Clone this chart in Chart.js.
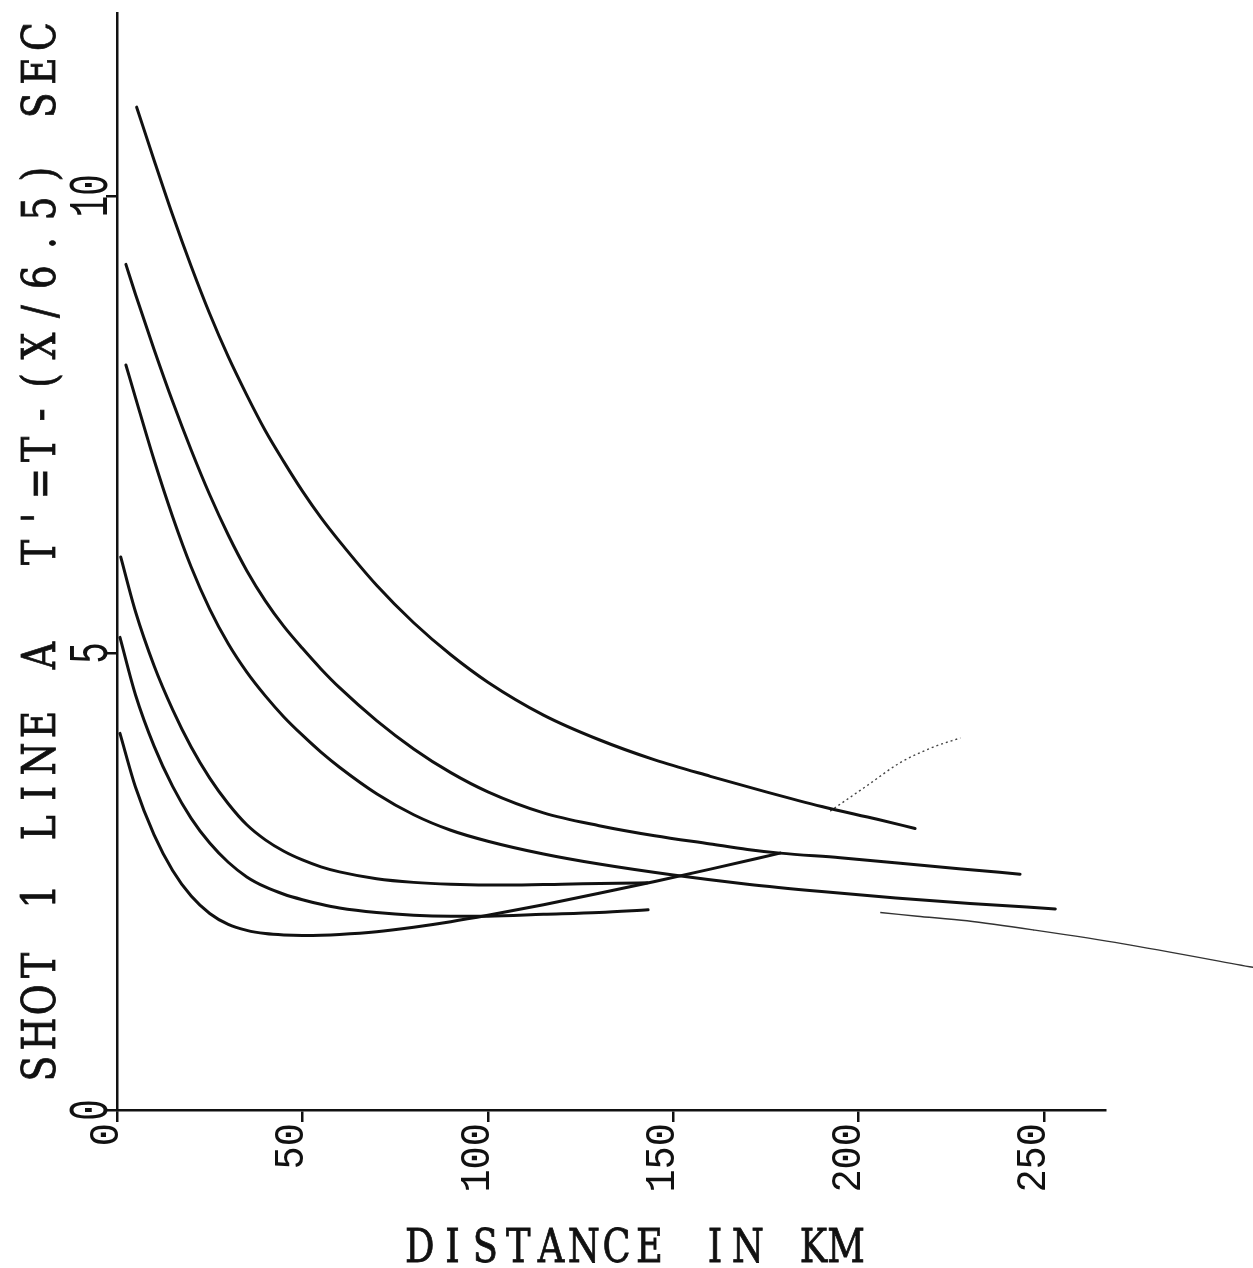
<!DOCTYPE html>
<html>
<head>
<meta charset="utf-8">
<title>Shot 1 Line A</title>
<script src="https://cdn.jsdelivr.net/npm/chart.js@4.4.1/dist/chart.umd.min.js"></script>
<style>
    html, body { margin: 0; padding: 0; background: #fff; }
    #wrap { width: 1253px; height: 1268px; position: relative; }
</style>
</head>
<body>
<div id="wrap"><canvas id="chart"></canvas></div>
<script>
// distance (km) and reduced time (s), one pair per branch
const curve1X = [5.3, 10, 15, 20, 25, 30, 35, 40, 45, 50, 55, 60, 70, 80, 90, 100, 115, 130, 145, 160, 175, 190, 205, 215.2];
const curve1Y = [10.97, 10.39, 9.79, 9.23, 8.71, 8.24, 7.82, 7.43, 7.09, 6.77, 6.48, 6.22, 5.74, 5.33, 4.98, 4.68, 4.32, 4.05, 3.83, 3.65, 3.48, 3.32, 3.18, 3.08];

const curve2X = [2.4, 5, 10, 15, 20, 25, 30, 35, 40, 45, 50, 55, 60, 70, 80, 90, 100, 115, 130, 145, 160, 170, 178.8, 195, 211.2, 227, 243.5];
const curve2Y = [9.25, 8.92, 8.32, 7.75, 7.22, 6.73, 6.29, 5.90, 5.57, 5.29, 5.05, 4.825, 4.62, 4.26, 3.95, 3.69, 3.48, 3.25, 3.11, 3.00, 2.91, 2.85, 2.81, 2.76, 2.70, 2.64, 2.58];

const curve3X = [2.4, 5, 10, 15, 20, 25, 30, 35, 40, 45, 50, 55, 60, 70, 80, 90, 100, 115, 130, 150, 170, 190, 210, 230, 253];
const curve3Y = [8.15, 7.79, 7.11, 6.49, 5.94, 5.48, 5.10, 4.79, 4.53, 4.30, 4.10, 3.915, 3.75, 3.46, 3.23, 3.06, 2.94, 2.80, 2.69, 2.57, 2.47, 2.39, 2.32, 2.26, 2.20];

const curve4X = [1.0, 5, 10, 15, 20, 25, 30, 35, 40, 45, 50, 55, 60, 70, 80, 90, 105, 120, 135, 143];
const curve4Y = [6.05, 5.45, 4.86, 4.38, 3.97, 3.63, 3.35, 3.12, 2.955, 2.83, 2.735, 2.66, 2.605, 2.53, 2.49, 2.47, 2.46, 2.47, 2.48, 2.485];

const curve5X = [0.8, 5, 10, 15, 20, 25, 30, 35, 40, 45, 50, 55, 60, 70, 80, 90, 100, 115, 130, 143.2];
const curve5Y = [5.17, 4.54, 3.98, 3.54, 3.19, 2.92, 2.71, 2.55, 2.44, 2.36, 2.30, 2.25, 2.21, 2.16, 2.13, 2.12, 2.12, 2.14, 2.16, 2.19];

const curve6X = [0.8, 5, 10, 15, 20, 25, 30, 35, 40, 45, 50, 55, 60, 70, 80, 90, 100, 115, 130, 145, 160, 178.8];
const curve6Y = [4.12, 3.53, 3.01, 2.62, 2.34, 2.15, 2.03, 1.965, 1.93, 1.915, 1.91, 1.912, 1.92, 1.95, 2.00, 2.06, 2.13, 2.245, 2.37, 2.50, 2.635, 2.81];

// faint pencil traces on the scan
const faintArcX = [192.3, 202.3, 211.2, 220.1, 227.4];
const faintArcY = [3.27, 3.55, 3.80, 3.97, 4.07];
const faintTailX = [205.8, 215.8, 229.2, 247.0, 271.0, 306.4];
const faintTailY = [2.16, 2.12, 2.07, 1.97, 1.82, 1.56];

const xTicks = [0, 50, 100, 150, 200, 250];
const yTicks = [0, 5, 10];
const xMax = 266.4;
const yMax = 12;
const xTitle = 'DISTANCE IN KM';
const yTitle = "SHOT 1 LINE A  T'=T-(X/6.5) SEC";

const ink = '#111';
const mono = '"Liberation Mono", "DejaVu Sans Mono", monospace';
const serif = '"DejaVu Serif", "Liberation Serif", serif';

function pts(xs, ys) {
    return xs.map((x, i) => ({ x: x, y: ys[i] }));
}

function branch(xs, ys) {
    return {
        data: pts(xs, ys),
        borderColor: ink,
        borderWidth: 3,
        pointRadius: 0,
        borderCapStyle: 'round',
        borderJoinStyle: 'round',
        cubicInterpolationMode: 'monotone',
        fill: false
    };
}

// typewriter style: every character in a fixed cell, centred on 0
function spacedText(ctx, text, advance, squeeze) {
    const start = -text.length * advance / 2;
    for (let i = 0; i < text.length; i++) {
        ctx.save();
        ctx.translate(start + (i + 0.5) * advance, 0);
        ctx.scale(squeeze, 1);
        ctx.fillText(text[i], 0, 0);
        ctx.strokeText(text[i], 0, 0);
        ctx.restore();
    }
}

const textPlugin = {
    id: 'plotterText',
    afterDraw(chart) {
        const ctx = chart.ctx;
        const area = chart.chartArea;
        const x = chart.scales.x;
        const y = chart.scales.y;
        ctx.save();
        ctx.fillStyle = ink;
        ctx.strokeStyle = ink;
        ctx.lineWidth = 0.8;
        ctx.textBaseline = 'alphabetic';

        // y tick labels, reading upwards
        ctx.font = '56px ' + mono;
        ctx.textAlign = 'center';
        yTicks.forEach(v => {
            ctx.save();
            ctx.translate(area.left - 10, y.getPixelForValue(v));
            ctx.rotate(-Math.PI / 2);
            ctx.scale(0.64, 1);
            ctx.fillText(String(v), 0, 0);
            ctx.restore();
        });

        // x tick labels, reading upwards and hanging under the ticks
        ctx.font = '42px ' + mono;
        ctx.textAlign = 'right';
        xTicks.forEach(v => {
            ctx.save();
            ctx.translate(x.getPixelForValue(v) + 1, area.bottom + 13);
            ctx.rotate(-Math.PI / 2);
            ctx.scale(0.92, 1);
            ctx.fillText(String(v), 0, 0);
            ctx.restore();
        });

        ctx.font = '46px ' + serif;
        ctx.textAlign = 'center';
        ctx.save();
        ctx.translate(55, (area.top + area.bottom) / 2 - 9);
        ctx.rotate(-Math.PI / 2);
        spacedText(ctx, yTitle, 34.4, 0.82);
        ctx.restore();

        ctx.save();
        ctx.translate((area.left + area.right) / 2 + 22, 1262);
        spacedText(ctx, xTitle, 32.8, 0.8);
        ctx.restore();
        ctx.restore();
    }
};

function draw() {
    const chart = document.querySelector('#chart').getContext('2d');
    new Chart(chart, {
        type: 'line',
        data: {
            datasets: [
                branch(curve1X, curve1Y),
                branch(curve2X, curve2Y),
                branch(curve3X, curve3Y),
                branch(curve4X, curve4Y),
                branch(curve5X, curve5Y),
                branch(curve6X, curve6Y),
                {
                    data: pts(faintArcX, faintArcY),
                    borderColor: '#444',
                    borderWidth: 1.4,
                    borderDash: [2, 3],
                    pointRadius: 0,
                    cubicInterpolationMode: 'monotone',
                    fill: false
                },
                {
                    // listed right to left so the point past the axis end is kept
                    data: pts(faintTailX, faintTailY).reverse(),
                    borderColor: '#333',
                    borderWidth: 1.4,
                    pointRadius: 0,
                    tension: 0.3,
                    clip: false,
                    fill: false
                }
            ]
        },
        options: {
            responsive: true,
            maintainAspectRatio: false,
            animation: false,
            layout: { padding: { top: 13, right: 148, bottom: 0, left: 0 } },
            plugins: {
                legend: { display: false },
                tooltip: { enabled: false }
            },
            scales: {
                x: {
                    type: 'linear',
                    min: 0,
                    max: xMax,
                    afterBuildTicks: s => { s.ticks = xTicks.map(value => ({ value })); },
                    afterFit: s => { s.height = 158; },
                    ticks: { display: false },
                    grid: { drawOnChartArea: false, drawTicks: true, tickLength: 12, color: ink, lineWidth: 2.5 },
                    border: { display: true, color: ink, width: 2.5 }
                },
                y: {
                    type: 'linear',
                    min: 0,
                    max: yMax,
                    afterBuildTicks: s => { s.ticks = yTicks.map(value => ({ value })); },
                    afterFit: s => { s.width = 117; },
                    ticks: { display: false },
                    grid: { drawOnChartArea: false, drawTicks: true, tickLength: 11, color: ink, lineWidth: 2.5 },
                    border: { display: true, color: ink, width: 2.5 }
                }
            }
        },
        plugins: [textPlugin]
    });
}

document.fonts.load('46px "DejaVu Serif"').catch(() => {}).then(draw);
</script>
</body>
</html>
